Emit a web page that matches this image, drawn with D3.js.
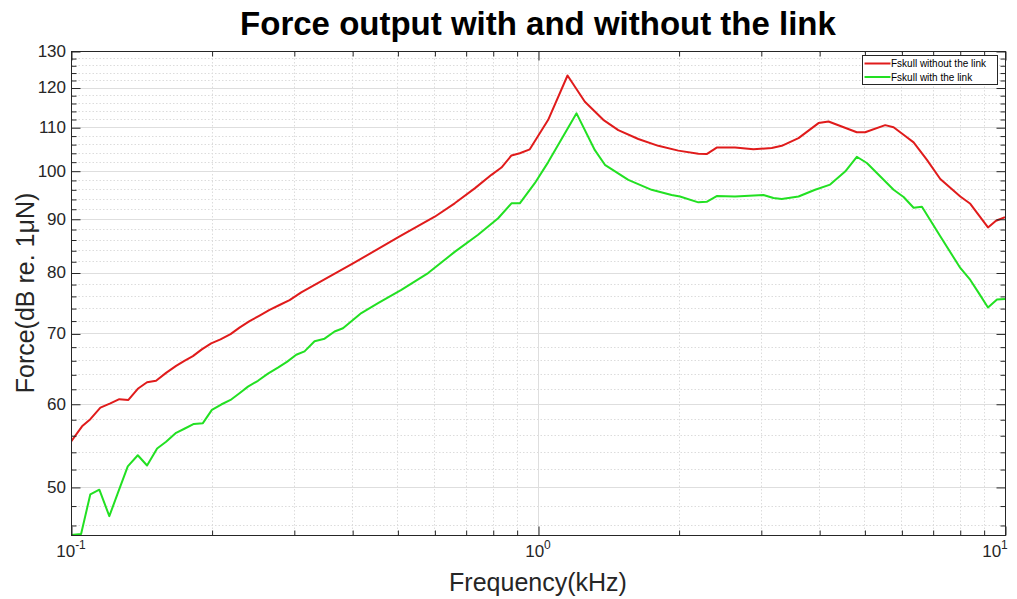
<!DOCTYPE html>
<html>
<head>
<meta charset="utf-8">
<script src="https://cdn.jsdelivr.net/npm/d3@7"></script>
<style>
  body { margin: 0; background: #fff; }
  text { font-family: Arial, "Liberation Sans", Helvetica, sans-serif; }
</style>
</head>
<body>
<svg id="chart" width="1017" height="599"></svg>
<script>
// Data (frequency in kHz, force in dB re. 1uN)
const freqNoLink = [0.1, 0.1056, 0.110, 0.1156, 0.1214, 0.1269, 0.1327, 0.1390, 0.1455, 0.1521,
  0.1598, 0.1679, 0.1749, 0.1824, 0.1906, 0.1996, 0.2090, 0.2196, 0.2295, 0.2412,
  0.2534, 0.2662, 0.2796, 0.2938, 0.3112, 0.4017, 0.5055, 0.6010, 0.6632, 0.7320,
  0.7949, 0.8351, 0.8774, 0.9141, 0.9603, 1.0516, 1.1567, 1.2600, 1.3797, 1.4856,
  1.6397, 1.8098, 1.9977, 2.2048, 2.2970, 2.4135, 2.6419, 2.8932, 3.1662, 3.3259,
  3.6129, 3.9871, 4.1889, 4.8164, 5.0177, 5.5392, 5.7735, 6.1136, 6.3723, 6.8058,
  7.2680, 8.0216, 8.4276, 9.1956, 9.5657, 10];
const forceNoLink = [55.2, 57.1, 58.0, 59.5, 60.05, 60.6, 60.5, 62.0, 62.9, 63.1,
  64.2, 65.2, 65.9, 66.6, 67.6, 68.5, 69.1, 69.9, 70.9, 71.9,
  72.8, 73.7, 74.5, 75.3, 76.6, 81.6, 86.6, 90.4, 93.1, 96.2,
  99.1, 100.7, 103.4, 103.9, 104.8, 111.8, 123.2, 116.3, 111.8, 109.3,
  107.2, 105.6, 104.5, 103.8, 103.7, 105.2, 105.2, 104.8, 105.1, 105.6,
  107.4, 111.0, 111.4, 108.8, 108.8, 110.5, 110.0, 107.9, 106.4, 102.4,
  98.2, 94.5, 93.0, 88.3, 89.6, 90.3];

const freqLink = [0.1, 0.1051, 0.110, 0.1150, 0.1208, 0.1259, 0.1323, 0.1390, 0.1455, 0.1529,
  0.1598, 0.1679, 0.1749, 0.1833, 0.1916, 0.2003, 0.2097, 0.2196, 0.2295, 0.2393,
  0.2514, 0.2641, 0.2774, 0.2905, 0.3036, 0.3163, 0.3323, 0.3491, 0.3668, 0.3823,
  0.4185, 0.4545, 0.5098, 0.5817, 0.6632, 0.7443, 0.8216, 0.8774, 0.9141, 0.9843,
  1.0516, 1.2093, 1.3237, 1.3907, 1.5609, 1.7509, 1.9326, 2.0136, 2.2048, 2.2970,
  2.4135, 2.6419, 3.0389, 3.1929, 3.3259, 3.6129, 3.9209, 4.2222, 4.5463, 4.8164,
  5.0600, 5.3625, 5.7735, 6.0655, 6.3723, 6.6397, 7.2680, 8.0216, 8.4276, 8.7826,
  9.1956, 9.6133, 10];
const forceLink = [45.0, 45.1, 49.2, 49.7, 46.9, 49.3, 52.3, 53.6, 52.4, 54.4,
  55.2, 56.3, 56.8, 57.4, 57.5, 59.2, 59.9, 60.5, 61.4, 62.3,
  63.1, 64.1, 64.95, 65.8, 66.8, 67.3, 68.8, 69.2, 70.3, 70.8,
  73.2, 74.8, 77.0, 79.9, 83.7, 86.9, 90.1, 93.1, 93.1, 97.3,
  101.9, 113.4, 104.6, 101.3, 98.0, 95.9, 94.8, 94.5, 93.3, 93.4,
  94.6, 94.5, 94.8, 94.2, 94.0, 94.5, 95.9, 97.0, 99.8, 103.1,
  101.7, 99.1, 95.9, 94.4, 92.2, 92.4, 86.6, 80.8, 78.7, 76.5,
  74.1, 75.4, 75.5];

const seriesNames = ["Fskull without the link", "Fskull with the link"];
const seriesColors = ["#e01b1b", "#22e022"];

const majorX = [0.1, 1, 10];
const xExponents = ["-1", "0", "1"];
const minorX = [0.2, 0.3, 0.4, 0.5, 0.6, 0.7, 0.8, 0.9, 2, 3, 4, 5, 6, 7, 8, 9];
const majorY = [50, 60, 70, 80, 90, 100, 110, 120, 130];
const minorY = d3.range(46, 130, 2).filter(v => v % 10 !== 0);

// Layout
const L = 71, R = 1005, T = 51, B = 535;
const axisColor = "#262626";

const svg = d3.select("#chart");
const x = d3.scaleLog().domain([0.1, 10]).range([L, R]);
const y = d3.scaleLog().domain([45, 130]).range([B, T]);

// Grid
const grid = svg.append("g").attr("transform", "translate(0.5,0.5)");
grid.selectAll(".gxm").data(minorX).join("line")
  .attr("x1", d => Math.round(x(d))).attr("x2", d => Math.round(x(d)))
  .attr("y1", T).attr("y2", B)
  .attr("stroke", "#dcdcdc").attr("stroke-dasharray", "1.5,2");
grid.selectAll(".gym").data(minorY).join("line")
  .attr("x1", L).attr("x2", R)
  .attr("y1", d => Math.round(y(d))).attr("y2", d => Math.round(y(d)))
  .attr("stroke", "#dcdcdc").attr("stroke-dasharray", "1.5,2");
grid.selectAll(".gxM").data(majorX).join("line")
  .attr("x1", d => Math.round(x(d))).attr("x2", d => Math.round(x(d)))
  .attr("y1", T).attr("y2", B)
  .attr("stroke", "#dedede");
grid.selectAll(".gyM").data(majorY).join("line")
  .attr("x1", L).attr("x2", R)
  .attr("y1", d => Math.round(y(d))).attr("y2", d => Math.round(y(d)))
  .attr("stroke", "#dedede");

// Curves
svg.append("clipPath").attr("id", "plotclip")
  .append("rect").attr("x", L).attr("y", T).attr("width", R - L).attr("height", B - T);

const line = d3.line().x(d => x(d[0])).y(d => y(d[1]));
const curves = [
  d3.zip(freqNoLink, forceNoLink),
  d3.zip(freqLink, forceLink)
];
svg.append("g").attr("clip-path", "url(#plotclip)")
  .selectAll("path").data(curves).join("path")
  .attr("d", line)
  .attr("fill", "none")
  .attr("stroke", (d, i) => seriesColors[i])
  .attr("stroke-width", 2)
  .attr("stroke-linejoin", "round");

// Axes (ticks point inward, box on)
function styleAxis(g) {
  g.select(".domain").remove();
  g.selectAll(".tick line").attr("stroke", axisColor);
  g.selectAll(".tick text").remove();
}
const ax = svg.append("g").attr("transform", "translate(0.5,0.5)");
ax.append("g").attr("transform", `translate(0,${B})`)
  .call(d3.axisBottom(x).tickValues(majorX).tickSize(-9)).call(styleAxis);
ax.append("g").attr("transform", `translate(0,${B})`)
  .call(d3.axisBottom(x).tickValues(minorX).tickSize(-5)).call(styleAxis);
ax.append("g").attr("transform", `translate(0,${T})`)
  .call(d3.axisTop(x).tickValues(majorX).tickSize(-9)).call(styleAxis);
ax.append("g").attr("transform", `translate(0,${T})`)
  .call(d3.axisTop(x).tickValues(minorX).tickSize(-5)).call(styleAxis);
ax.append("g").attr("transform", `translate(${L},0)`)
  .call(d3.axisLeft(y).tickValues(majorY).tickSize(-9)).call(styleAxis);
ax.append("g").attr("transform", `translate(${L},0)`)
  .call(d3.axisLeft(y).tickValues(minorY).tickSize(-5)).call(styleAxis);
ax.append("g").attr("transform", `translate(${R},0)`)
  .call(d3.axisRight(y).tickValues(majorY).tickSize(-9)).call(styleAxis);
ax.append("g").attr("transform", `translate(${R},0)`)
  .call(d3.axisRight(y).tickValues(minorY).tickSize(-5)).call(styleAxis);
ax.append("rect")
  .attr("x", L).attr("y", T).attr("width", R - L).attr("height", B - T)
  .attr("fill", "none").attr("stroke", axisColor).attr("stroke-width", 1);

// Y tick labels
svg.append("g").selectAll("text").data(majorY).join("text")
  .attr("x", L - 5).attr("y", d => y(d)).attr("dy", "0.35em")
  .attr("text-anchor", "end").attr("font-size", 17).attr("fill", axisColor)
  .text(d => d);

// X tick labels 10^n
const xl = svg.append("g").selectAll("text").data(majorX).join("text")
  .attr("y", 557).attr("font-size", 17).attr("fill", axisColor)
  .attr("text-anchor", "middle")
  .attr("x", (d, i) => i === majorX.length - 1 ? x(d) - 10 : x(d));
xl.append("tspan").text("10");
xl.append("tspan").attr("font-size", 12).attr("dy", -8).text((d, i) => xExponents[i]);

// Axis labels and title
svg.append("text")
  .attr("x", (L + R) / 2).attr("y", 591)
  .attr("text-anchor", "middle").attr("font-size", 25).attr("fill", axisColor)
  .text("Frequency(kHz)");
svg.append("text")
  .attr("transform", `translate(34,${(T + B) / 2}) rotate(-90)`)
  .attr("text-anchor", "middle").attr("font-size", 25).attr("fill", axisColor)
  .text("Force(dB re. 1μN)");
svg.append("text")
  .attr("x", (L + R) / 2).attr("y", 35)
  .attr("text-anchor", "middle").attr("font-size", 33).attr("font-weight", "bold")
  .attr("fill", "#000")
  .text("Force output with and without the link");

// Legend
const lg = svg.append("g").attr("transform", "translate(862.5,55.5)");
lg.append("rect").attr("width", 135).attr("height", 29)
  .attr("fill", "#fff").attr("stroke", axisColor).attr("stroke-width", 1);
const items = lg.selectAll(".item").data(seriesNames).join("g")
  .attr("transform", (d, i) => `translate(0,${8 + i * 13.5})`);
items.append("line").attr("x1", 2).attr("x2", 28)
  .attr("stroke", (d, i) => seriesColors[i]).attr("stroke-width", 2);
items.append("text").attr("x", 28.5).attr("dy", "0.35em")
  .attr("font-size", 10).attr("fill", "#000").text(d => d);
</script>
</body>
</html>
